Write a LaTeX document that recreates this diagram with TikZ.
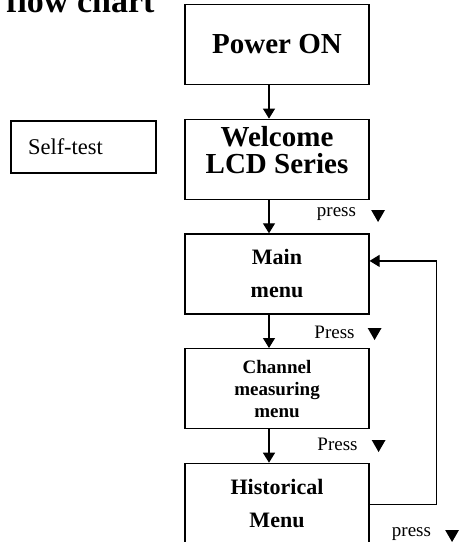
\documentclass[tikz,border=0pt]{standalone}
\usepackage{fontspec}
\setmainfont{Liberation Serif}
\usepackage{tikz}
\usetikzlibrary{arrows.meta,shapes,positioning,calc}
\tikzset{
    stepbox/.style={draw, line width=1.2pt, minimum width=184pt, minimum height=80pt, inner sep=0pt, align=center},
    flow/.style={-{Triangle[length=10pt, width=12pt]}, line width=1.2pt},
    presslbl/.style={inner sep=0pt, font=\fontsize{19}{19}\selectfont},
    tri/.style={regular polygon, regular polygon sides=3, shape border rotate=180, fill=black, minimum size=16pt, inner sep=0pt}
}
\begin{document}
\begin{tikzpicture}[x=1pt, y=-1pt, node distance=33.5pt]
        \useasboundingbox (0,0) rectangle (460,542);
        \node[inner sep=0pt, anchor=base west] (title) at (6,12) {\fontsize{34}{34}\selectfont\bfseries flow chart};

        \node[stepbox, font=\fontsize{29}{26}\selectfont\bfseries] (power) at (277,44.5) {Power ON};
        \node[stepbox, below=of power, font=\fontsize{29}{27}\selectfont\bfseries, text depth=18pt] (welcome) {Welcome\\LCD Series};
        \node[stepbox, below=of welcome, font=\fontsize{22}{33}\selectfont\bfseries] (main) {Main\\menu};
        \node[stepbox, below=of main, font=\fontsize{19}{22}\selectfont\bfseries] (channel) {Channel\\measuring\\menu};
        \node[stepbox, below=of channel, font=\fontsize{22}{33}\selectfont\bfseries] (hist) {Historical\\Menu};

        \node[draw, line width=1.2pt, minimum height=52pt, text width=111pt, inner xsep=17pt, inner ysep=0pt, align=left, font=\fontsize{22.5}{22.5}\selectfont] (selftest) at (83.5,147) {Self-test};

        \draw[flow] ([xshift=-8pt]power.south) -- ([xshift=-8pt]welcome.north);
        \draw[flow] ([xshift=-8pt]welcome.south) -- ([xshift=-8pt]main.north);
        \draw[flow] ([xshift=-8pt]main.south) -- ([xshift=-8pt]channel.north);
        \draw[flow] ([xshift=-8pt]channel.south) -- ([xshift=-8pt]hist.north);
        \draw[flow] ([yshift=-1.5pt]hist.east) -- ++(67,0) coordinate (back) |- ([yshift=13pt]main.east);

        \node[presslbl] (press1) at (336.5,214) {press};
        \node[tri, right=17pt of press1] (down1) {};
        \node[presslbl] (press2) at (334.5,332) {Press};
        \node[tri, right=15pt of press2] (down2) {};
        \node[presslbl] (press3) at (337.5,444) {Press};
        \node[tri, right=16pt of press3] (down3) {};
        \node[presslbl] (press4) at (411.5,534) {press};
        \node[tri, right=16pt of press4] (down4) {};
    \end{tikzpicture}
\end{document}
